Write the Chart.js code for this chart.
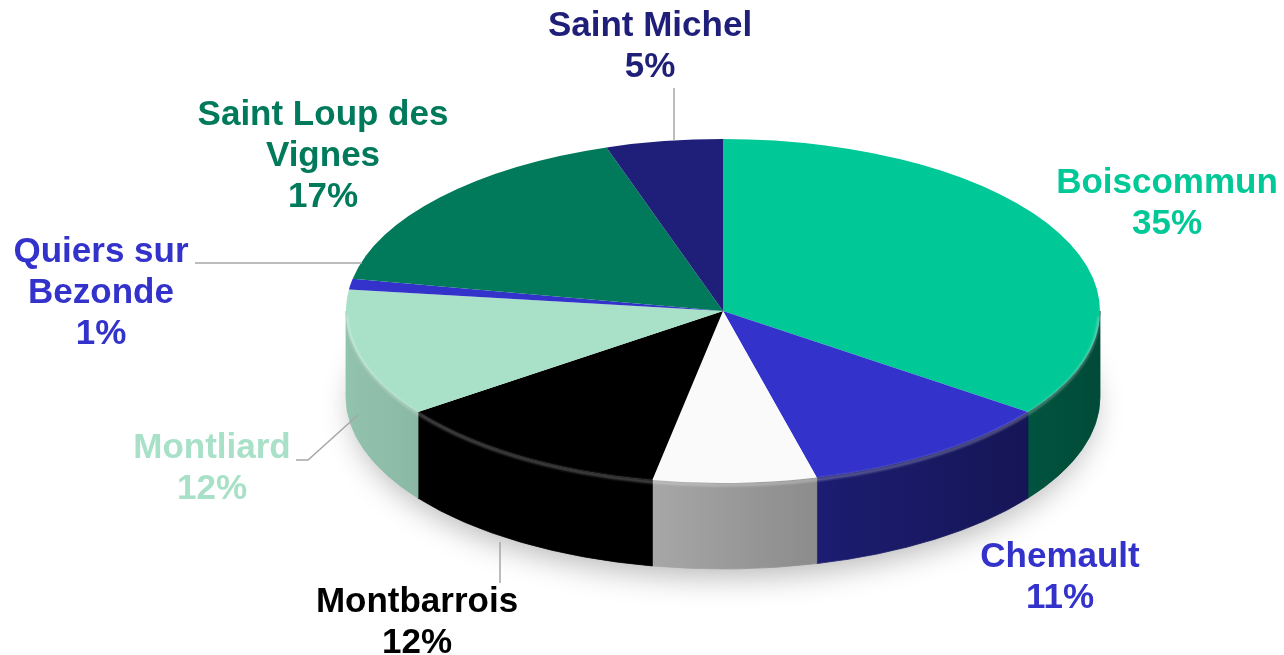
<!DOCTYPE html>
<html><head><meta charset="utf-8">
<script src="https://cdn.jsdelivr.net/npm/chart.js@4/dist/chart.umd.min.js"></script>
<style>html,body{margin:0;padding:0;background:#fff;overflow:hidden}#wrap{width:1284px;height:655px;position:relative}</style>
</head><body><div id="wrap"><canvas id="c"></canvas></div>
<script>
// ---- data ----
const categories = ['Boiscommun', 'Chemault', '', 'Montbarrois', 'Montliard', 'Quiers sur Bezonde', 'Saint Loup des Vignes', 'Saint Michel'];
const values = [35, 11, 7, 12, 12, 1, 17, 5];

// ---- styles ----
const sliceColors = ['#00C896', '#3333CC', '#FAFAFA', '#000000', '#A8E0C8', '#3333CC', '#007A5A', '#1F1F7A'];
const labelColors = ['#00C896', '#3333CC', '#FFFFFF', '#000000', '#A8E0C8', '#3333CC', '#007A5A', '#1F1F7A'];
// label text lines (category split into lines) and centre positions
const labelLines = [['Boiscommun'], ['Chemault'], [], ['Montbarrois'], ['Montliard'], ['Quiers sur', 'Bezonde'], ['Saint Loup des', 'Vignes'], ['Saint Michel']];
const labelPos = [[1167, 183], [1060, 557], [0, 0], [417, 602], [212, 448], [101, 252], [323, 115], [650, 26]];
const leaderLines = [
  [], [], [],
  [[500, 583], [500, 542]],
  [[296, 460], [308, 460], [358, 415]],
  [[195, 263], [362, 263]],
  [],
  [[674, 88], [674, 141]]
];
const GEOM = { cx: 723, cy: 311, rx: 377, ry: 172, depth: 86 };
const FONT = 'bold 35px "Liberation Sans", Arial, sans-serif';
const LINE_H = 41;

function hexRgb(h) { const n = parseInt(h.slice(1), 16); return [(n >> 16) & 255, (n >> 8) & 255, n & 255]; }
function shade(h, f) { const [r, g, b] = hexRgb(h); return `rgb(${Math.round(r * f)},${Math.round(g * f)},${Math.round(b * f)})`; }
function sideFactor(x) { return Math.max(0.3, 0.86 - (x - 360) * 0.00066); }

const pie3d = {
  id: 'pie3d',
  beforeDatasetsDraw(chart) {
    const ctx = chart.ctx;
    const meta = chart.getDatasetMeta(0);
    const { cx, cy, rx, ry, depth } = GEOM;
    const TWO = Math.PI * 2;
    // soft shadow below the pie
    ctx.save();
    ctx.shadowColor = 'rgba(0,0,0,0.28)'; ctx.shadowBlur = 30; ctx.shadowOffsetY = 10;
    ctx.beginPath(); ctx.ellipse(cx, cy + depth, rx - 6, ry - 2, 0, 0, TWO);
    ctx.fillStyle = '#fff'; ctx.fill();
    ctx.restore();
    // side walls
    meta.data.forEach((arc, i) => {
      let s = arc.startAngle, e = arc.endAngle;
      const off = Math.floor(s / TWO) * TWO; s -= off; e -= off;
      [[0, Math.PI], [TWO, TWO + Math.PI]].forEach(([a, b]) => {
        const lo = Math.max(s, a), hi = Math.min(e, b);
        if (hi <= lo) return;
        const xA = cx + rx * Math.cos(lo), xB = cx + rx * Math.cos(hi);
        const xl = Math.min(xA, xB), xr = Math.max(xA, xB);
        const g = ctx.createLinearGradient(xl, 0, xr + 0.01, 0);
        for (let k = 0; k <= 4; k++) {
          const x = xl + (xr - xl) * k / 4;
          g.addColorStop(k / 4, shade(sliceColors[i], sideFactor(x)));
        }
        ctx.beginPath();
        ctx.ellipse(cx, cy, rx, ry, 0, lo, hi, false);
        ctx.lineTo(cx + rx * Math.cos(hi), cy + depth + ry * Math.sin(hi));
        ctx.ellipse(cx, cy + depth, rx, ry, 0, hi, lo, true);
        ctx.closePath();
        ctx.fillStyle = g; ctx.fill();
        ctx.strokeStyle = g; ctx.lineWidth = 0.8; ctx.stroke();
      });
    });
    // squash the library's circular pie into the ellipse of the top face
    const a0 = meta.data[0];
    const R = a0.outerRadius;
    ctx.save();
    ctx.translate(cx, cy); ctx.scale(rx / R, ry / R); ctx.translate(-a0.x, -a0.y);
  },
  afterDatasetsDraw(chart) {
    const ctx = chart.ctx;
    ctx.restore();
    const { cx, cy, rx, ry } = GEOM;
    // soft bevel highlight along the front rim
    ctx.save();
    ctx.filter = 'blur(1.2px)';
    ctx.beginPath(); ctx.ellipse(cx, cy + 2, rx - 1, ry, 0, 0.02, Math.PI - 0.02);
    ctx.strokeStyle = 'rgba(255,255,255,0.28)'; ctx.lineWidth = 3; ctx.stroke();
    ctx.restore();
  },
  afterDraw(chart) {
    const ctx = chart.ctx;
    const total = values.reduce((p, v) => p + v, 0);
    ctx.save();
    // leader lines
    ctx.strokeStyle = '#A6A6A6'; ctx.lineWidth = 1.5;
    leaderLines.forEach(pts => {
      if (pts.length < 2) return;
      ctx.beginPath(); ctx.moveTo(pts[0][0], pts[0][1]);
      for (let k = 1; k < pts.length; k++) ctx.lineTo(pts[k][0], pts[k][1]);
      ctx.stroke();
    });
    ctx.font = FONT; ctx.textAlign = 'center'; ctx.textBaseline = 'middle';
    categories.forEach((c, i) => {
      if (!labelLines[i].length) return;
      const lines = labelLines[i].concat([Math.round(values[i] / total * 100) + '%']);
      ctx.fillStyle = labelColors[i];
      lines.forEach((t, k) => ctx.fillText(t, labelPos[i][0], labelPos[i][1] + k * LINE_H));
    });
    ctx.restore();
  }
};

new Chart(document.getElementById('c'), {
  type: 'pie',
  data: {
    labels: categories,
    datasets: [{ data: values, backgroundColor: sliceColors, borderWidth: 0, hoverOffset: 0 }]
  },
  options: {
    responsive: true, maintainAspectRatio: false, animation: false, events: [],
    layout: { padding: 0 },
    plugins: { legend: { display: false }, tooltip: { enabled: false } }
  },
  plugins: [pie3d]
});
</script></body></html>
